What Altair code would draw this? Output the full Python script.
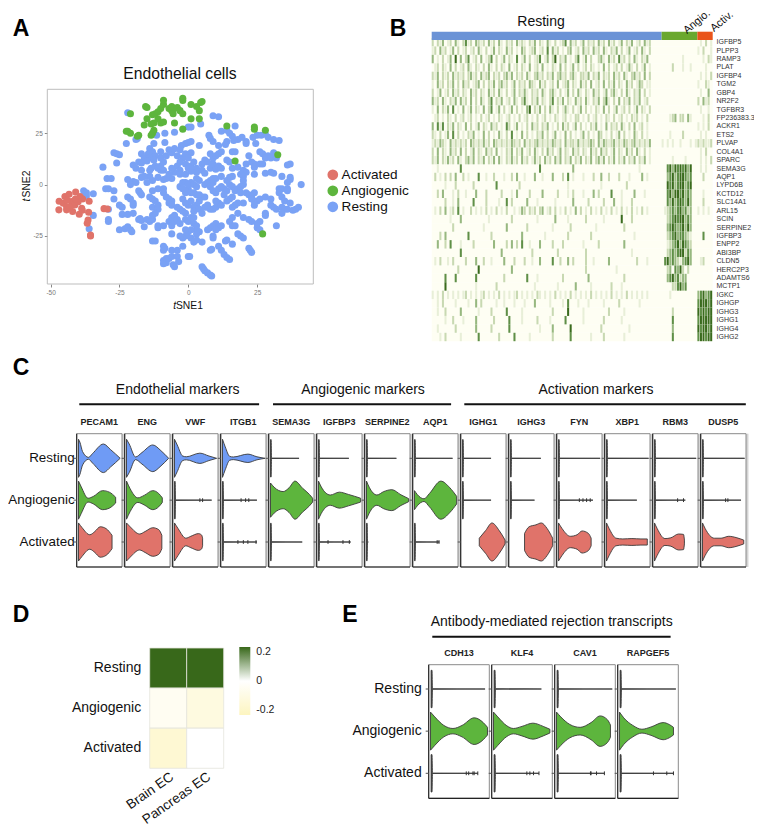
import altair as alt
import pandas as pd

FONT = "Liberation Sans"
W, H = 746, 818
OFF = 8  # page margin

# ---------- Panel A values (tSNE coordinates)
tsne_resting = [
(-22,35),(9,33.5),(11,33),(4.5,29.5),(0,28),(1,28),(17,28.5),(12,26),(14,26.5),(15,25),(16,23.5),(7.5,24),(8,22.5),(9,21),(-5,25.5),(-8.5,25),(-11.5,24),(-18.5,22.5),(-19,22),(-22.5,20),(25,24),(23.5,23),(26.5,24),(28,24.5),(29,23),(31,22),(33,21.5),(21,21),(21,20),(24.5,20),(19.5,23),(18,22),(16.5,21.5),(14,21),(13.5,19.5),(11,19),(-1,20),(0,20.5),(1,21),(-2.5,19),(4,19),(-8.5,20.5),(-12.5,20),(-14,17.5),
(-27,15.5),(-26,15),(-25,14.5),(-26,10.5),(-31,8.5),(-29.5,3),(-28,3),(-22,2.5),(-20,1.5),(-19,1),(-21,0),(-30,-2),(-29,-2),(-27,-3),
(-17,15),(-16,13),(-18,11),(-17,10.5),(-20,9.5),(-19,8),(-17,7),(-14.5,15),(-13,16),(-12,14),(-14,13),(-12.5,12),(-15,11.5),(-13.5,8),(-12,9),(-14,7),(-11,8),(-10,7),(-9,7),(-10,9),(-9,11),(-10,13),(-8,14),(-10,16),(-7,17),(-6,15.5),(-4,14),(-5,17.5),(-3,17),(-2,13),(-1,15),(1,15.5),(0,13),(-3,11),(-4,9),(-3,7),(-5,6),(-6,8),(-7,5),(-6,3),(-8,3),(-9,2.5),(-11,3.5),(-13,2),(-14,4),(-16,4),(-17,3.5),(-15,1),(-3,5),(-1,10),(0,8),(1,6.5),(-1,5),(1,9),(2,11),(3,8),(3,6),(5,7),(6,5.5),(6,12),(5,10),(7,11),(8,8),(9,10),(10,7.5),(11,9),(12,8),(9,13),(10,14),(11,15),(12,16),(8,15),(14,12),(15,11),(16,16),(17,16),(18,8.5),(16,8),(21,10),(20,7),(21,6),(19,5),(20,4),(16,4),(15,3.5),(23,11),(24,10),(24,8.5),(26,10),(27,10),(24,5),(22,14),(26,16),(27,15),(29,14),(31,15.5),(28,13),(30,13),(32,13),(30,6),(28,5.5),(31,5.5),(34,4),(37,10),(36,9.5),(37,3.5),(37,2.5),(36,1),
(-38,-3),(-37,-4),(-37,-5.5),(-34.5,-4.5),(-29,-12),(-34.5,-15),(-29,-17),(-29,-18),(-36,-21.5),(-27,-7),(-25,-10),(-24,-11),(-24,-14.5),(-22,-14.5),(-20,-14),(-22,-6),(-21,-7),(-20,-9),(-20,-10),(-25,-22),(-23,-21.5),(-22,-20.5),(-21,-22),(-20.5,-23),(-18,-17),(-17,-17.5),(-17.5,-16.5),(-15,-17),(-16,-20.5),(-14,-18),(-13,-17),(-18,-3),(-17.5,-4),(-17,-5),(-13,-3),(-14,-6),(-13,-7),(-12,-8),(-13,-11),(-11,-10),(-11,-12),(-12,-14),(-13,-15),(-11,-20),(-11,-21),(-9,-20),(-7,-18),(-6,-16),(-5,-15),(-6,-20),(-5,-18),(-4,-17),(-3,-19),(-6,-24),(-11,-2),(-9,-2),(-9,-4),(-8,-6),(-7,-7),(-7,-9),(-6,-8),(-6,-10),(-4,-11),(-3,-12),(-2,-13),(-1,-14),(-2,-7),(-1,-4),(0,-2),(1,-4),(2,-4),(3,-5),(4,-5),(5,-6),(6,-6),(-2,1),(-1,1),(-3,-1),(-2,-2),(1,1),(0,0),(2,0),(3,-1),(4,2),(3,3),(6,0),(7,1),(8,2),(9,3),(10,3),(9,1),(8,-1),(9,-3),(10,-4),(11,-2),(12,-1),(13,-2),(12,4),(14,2),(15,0),(14,-3),(16,-1),(17,-3),(18,-2),(19,-1),(20,0),(20,2),(13,-5),(14,-8),(15,-7),(16,-6),(19,-4),(21,-4),(22,-5),(23,-6),(24,-8),(25,-8),(26,-7),(24,-4),(20,-9),(18,-9),(17,-10),(16,-11),(18,-14),(16,-16),(15,-18),(16,-20),(17,-20),(20,-16),(22,-17),(23,-18),(23,-7),(24,-10),(28,-6),(30,-7),(30,-10),(31,-11),(28,-14),(28,-15),(33,-2),(34,-2),(36,-2),(36,-3),(33,-4),(34,-6),(35,-8),(34,-11),(35,-12),(34,-14),(36,-12),(38,-12.5),(39,-12),(40,-11),(41,0),(37,-9),(32,-12),(32,-20),(26,-18),(25,-21),(26,-22),(25,-19),(4,-8),(3,-10),(2,-11),(0,-10),(-1,-9),(1,-8),(2,-13),(4,-12),(5,-14),(6,-11),(7,-11),(8,-12),(9,-12),(10,-11),(11,-9),(12,-10),(10,-8),(7,-10),(-1,-17),(0,-18),(1,-16),(2,-16),(2,-19),(3,-20),(3,-22),(4,-23),(3,-24),(1,-22),(0,-23),(-1,-25),(-2,-26),(-3,-25),(-1,-22),(1,-26),(2,-28),(3,-27),(5,-28),(7,-22),(8,-21),(9,-20),(10,-19),(10,-22),(11,-21),(12,-20),(9,-25),(9,-26),(19,-25),(18,-24),(20,-26),(14,-27),(13.5,-27.5),(16,-29),(22,-31),(22.5,-32),(23,-33),(8,-32),(8.5,-31.5),(11,-30),(12,-32),(13,-34),(14,-35.5),(15,-36.5),
(5,-40),(5.5,-41),(6,-42),(7,-43),(8,-44),(8.5,-44.5),(0,-35),(0.5,-35),(-9,-37),(-8,-36),(-8,-38),(-7,-36),(-9,-38.5),(-5,-40),(-5.5,-39),(-6,-35),(-4,-35),(-3.5,-37.5),(-9,-30),(-9,-32),(-8.5,-31),(-6,-32),(-4,-32),(-2,-30),(-13,-27.5),(-12,-27.5),
]
tsne_angiogenic = [
(-21,34.5),(-15.5,38),(-15,37.5),(-15,32),(-13.5,29.5),(-12.5,30),(-16,29),(-11,32),(-13,34),(-12,34.5),(-11,35.5),(-10,37),(-9,39),(-9,41),(-7,37),(-6,38),(-5,37),(-6,36),(-5.5,34.5),(-4,37.5),(-3,36),(-2,34.5),(-10,30),(-9,30.5),(-5,30),(-2,27),(-2,41),(-2,42),(1,32),(4,32),(4,36),(1,39),(3,38),(4.5,40),(5,40.5),(-18,24),(-18.5,23.5),(-22.5,26),(-22,26),(-21,25),(-13,25),(-12.5,26.5),(-13.5,24),(14,28.5),(24,28),(24,27),(28,26.5),(32.5,14.5),(17,11.5),(27,-24),
]
tsne_activated = [
(-46.9,-8.1),(-47,-12.3),(-44.8,-5.8),(-43.3,-4.7),(-40.9,-3.6),(-39.3,-5.8),(-38.4,-7),(-45.4,-9.1),(-44.2,-10.7),(-42.4,-8.3),(-41.2,-9.9),(-40,-8.3),(-38.7,-11.5),(-44.2,-12.3),(-42,-13.1),(-39.6,-14.4),(-43,-11),(-41,-7),(-36,-8.1),(-36.2,-13.5),(-36.4,-17.2),(-36.7,-18.8),(-35.5,-24.5),(-35.5,-25),(-30.6,-11.7),(-29.4,-11.9),(-44,-7.5),(-38.5,-12.5),
]

# ---------- Panel B values: per-gene expression level per column (0-5)
heat_rows = [
("IGFBP5","20213012031024120321203120310212031210213021031020124031201302120312031201302130120312","00000000000000","010201"),
("PLPP3","12031201302012012031020130210312010320123012040312010230120312031203102130201301203102","00000000000000","102001"),
("RAMP3","30102013050302401203012402013021040130201240130250213010240130200231031204120203102130","00000000100000","001021"),
("PLAT","01202103020120310210203102021030120210301203010210302013020120210103020120201310201301","00002000100100","000100"),
("IGFBP4","21302120312120231203123021202313021203102312021302312023102213021302120312031023120302","00000000000000","010102"),
("TGM2","10312021302031201230202130231201302120321031201203012302103120301203021302103120132011","00000000000000","100210"),
("GBP4","20130120312021031202103120310201302131021203102310201302031021031201302310203102130201","00000000000000","010030"),
("NR2F2","31203102130312030203102402130120310241021302102402130210312031021302410203021302130120","00000000000000","203120"),
("TGFBR3","10302130401030130210302401302013020103502130203102013102013020102103020130120201302102","00000000000000","010010"),
("FP236383.3","01201021020120120102012010210120102012010201201021012010220102012010210201201021201020","00012302203100","001020"),
("ACKR1","30414021302103020130210312010420130102031202130102031201302010213010302120310203012010","00000000000000","101020"),
("ETS2","21020130402010213010302010310204010302010213020130103020101302010320102013020103102010","00010000200000","010100"),
("PLVAP","12132103121212032121312032121213212031212312121321203122131212320313212312132123121213","10101001000101","212112"),
("COL4A1","20302103120302013021031203010213021301203102031201302103120210312031201302103120310201","00000000000000","010200"),
("SPARC","21302131203102313021302130310213120312013120312031302130213021302313021302130213021301","00001000010000","010102"),
("SEMA3G","00100000000400000000000000000000000000000040000000000003000000000000000000000000010000","00453545453500","010100"),
("AQP1","02010202030020100040010020001002030010003001000300020401000100020030020002000100003010","00345345543400","002000"),
("LYPD6B","00000100020000002000000004000000002000000000000000000100000000000010000000002000000000","00545345534500","000000"),
("KCTD12","00203000102001000300020000020001030000200003000002000102000100030200004000100003000100","00453554534300","001000"),
("SLC14A1","00000200103000004000020000100402000003000100000010000003000002000002000300100020000000","00435345435300","002000"),
("ARL15","01020301204010020101020102010200101320212023012020102010302010201020102010201020102010","01234345342300","101010"),
("SCIN","00000001000300000000001000000002000000000100000030000100000020000001000000500020000000","00234545534300","000000"),
("SERPINE2","00000000200000000000100000000300000002000000000100000020000000001000000000020000000000","00345434535300","000000"),
("IGFBP3","00020300000000400000000200000000000300000000100000000200000000200000000000000001000000","00234534432100","004000"),
("ENPP2","00300204000100002000000030000203020400100030000200020000000100000200000000030000000000","00123453543200","000000"),
("ABI3BP","00000000000400000000000000030000000000020000000002000000000020000000000000000010000000","00234345524300","000000"),
("CLDN5","01020010200002000300200100003000200020010030000400200302000020010000030000000000200010","04534321345300","012000"),
("HERC2P3","00000000002000000050000000000003000000000000000000000000000020000000000010000000000000","00230435202000","000000"),
("ADAMTS6","00000400040000000400000000002000000004000100000000020000000003000000000000020000000000","00345342330000","000000"),
("MCTP1","00000500000000000100000002000000000000001000000001000000300000100000002000100000000000","00002245340000","000000"),
("IGKC","10102010101012010101201010201010120101010210101020101020101010201010102010102010101010","00010000000000","345345"),
("IGHGP","00102000010000100302000001001000100010003000001000010400010001000001000002000000010000","00000000000000","455545"),
("IGHG3","00100200000300000010000200000400000100000000000200000500000100000000020000010000000000","00002000000000","545455"),
("IGHG1","00000100200010000300000020000040000100000200001000004000000100000002000000100000000000","00004000000000","455555"),
("IGHG4","00100000020000000300000200000040000000000010000300000050000000000020000000000100000000","00003000000000","545545"),
("IGHG2","00010200000100000040000000200000400000100000000200000040000000100002000000010000000000","00004000000000","455455"),
]
heat_groups = ["Resting", "Angio", "Activ"]
heat_group_colors = ["#6B93D6", "#6AA82E", "#E9541A"]
heat_level_colors = ["#E8EFD8", "#C8D9B2", "#97B880", "#5F8F47", "#3A6B1E"]

# ---------- Panels C/E values
rows = ["Resting", "Angiogenic", "Activated"]
row_colors = ["#6F9BF5", "#5DB53D", "#E0736A"]
THIN_KEY = "collapsed"
THIN_COLOR = "#3A3A3A"

def thin(end):
    return [(0.04, 0.98), (0.055, 0.98), (0.062, 0.012), (end, 0)]

def is_thin(prof):
    return prof[0] == (0.04, 0.98)

genes_C = {
"PECAM1": [[(.04,1),(.07,.85),(.13,.35),(.26,.05),(.35,.25),(.59,.75),(.75,.45),(.96,0)],
           [(.04,1),(.1,.7),(.25,.1),(.37,.2),(.57,.5),(.72,.42),(.86,.15)],
           [(.04,1),(.12,.75),(.29,.38),(.4,.55),(.52,.8),(.65,.7),(.78,.35)]],
"ENG":    [[(.04,1),(.1,.75),(.24,.07),(.38,.3),(.62,.7),(.8,.4),(.97,0)],
           [(.04,1),(.12,.6),(.29,.12),(.43,.25),(.62,.5),(.75,.35),(.83,.12)],
           [(.04,1),(.12,.8),(.33,.42),(.45,.55),(.62,.75),(.75,.65),(.82,.35)]],
"VWF":    [[(.04,1),(.1,.7),(.22,.12),(.3,.08),(.6,.27),(.8,.12),(.97,0)],
           thin(.86),
           [(.04,1),(.12,.7),(.29,.2),(.4,.3),(.57,.44),(.64,.36),(.66,.2)]],
"ITGB1":  [[(.04,1),(.1,.6),(.2,.1),(.28,.07),(.6,.22),(.8,.08),(.98,0)],
           thin(.8), thin(.8)],
"SEMA3G": [thin(.67),
           [(.04,.9),(.12,.68),(.32,.45),(.45,.65),(.58,1),(.75,.62),(.9,.3),(.97,.1)],
           thin(.74)],
"IGFBP3": [thin(.71),
           [(.04,1),(.1,.7),(.3,.27),(.5,.42),(.7,.3),(.97,.1)],
           thin(.75)],
"SERPINE2":[thin(.7),
           [(.04,1),(.1,.68),(.27,.27),(.42,.45),(.6,.55),(.8,.28),(.97,.08)],
           thin(.08)],
"AQP1":   [thin(.88),
           [(.04,.5),(.1,.3),(.25,.07),(.37,.35),(.62,1),(.82,.65),(.97,.2)],
           thin(.59)],
"IGHG1":  [thin(.67), thin(.67),
           [(.41,.2),(.55,.6),(.69,1),(.85,.6),(.98,.1)]],
"IGHG3":  [thin(.71), thin(.57),
           [(.35,.45),(.45,.8),(.6,.9),(.72,1),(.85,.7),(.97,.2)]],
"FYN":    [thin(.96), thin(.8),
           [(.04,1),(.12,.7),(.3,.3),(.45,.38),(.56,.58),(.7,.45),(.76,.2)]],
"XBP1":   [thin(.97), thin(.71),
           [(.04,1),(.1,.7),(.25,.2),(.4,.16),(.6,.18),(.8,.16),(.94,.16)]],
"RBM3":   [thin(.96), thin(.72),
           [(.04,1),(.1,.7),(.27,.18),(.4,.22),(.57,.42),(.68,.4),(.7,.1)]],
"DUSP5":  [thin(.97), thin(.89),
           [(.04,1),(.1,.7),(.3,.2),(.45,.2),(.62,.3),(.8,.22),(.95,.1)]],
}
dots_C = [("VWF",1,.6),("VWF",1,.66),("ITGB1",1,.45),("ITGB1",1,.55),("ITGB1",1,.62),("ITGB1",2,.38),("ITGB1",2,.5),("ITGB1",2,.6),("ITGB1",2,.78),
          ("IGFBP3",2,.25),("IGFBP3",2,.58),("IGFBP3",2,.72),("AQP1",2,.54),("AQP1",2,.58),
          ("FYN",1,.5),("FYN",1,.58),("FYN",1,.66),("FYN",1,.74),("RBM3",1,.55),("RBM3",1,.68),("DUSP5",1,.55),("DUSP5",1,.6)]

genes_E = {
"CDH13":  [thin(.93),
           [(.03,1),(.1,.75),(.25,.3),(.4,.14),(.55,.3),(.75,.7),(.9,.45),(.97,.2)],
           thin(.81)],
"KLF4":   [thin(.82),
           [(.03,1),(.1,.75),(.25,.28),(.36,.14),(.5,.25),(.68,.42),(.85,.25),(.96,.1)],
           thin(.78)],
"CAV1":   [thin(.95),
           [(.03,1),(.1,.75),(.25,.35),(.42,.2),(.6,.45),(.75,.8),(.87,.6),(.92,.32)],
           thin(.82)],
"RAPGEF5":[thin(.96),
           [(.03,1),(.1,.7),(.25,.3),(.4,.1),(.55,.22),(.75,.45),(.85,.35),(.92,.2)],
           thin(.92)],
}
dots_E = [("CDH13",2,.62),("CDH13",2,.66),("CDH13",2,.73),("CDH13",2,.75),("CDH13",2,.81),
          ("KLF4",2,.58),("KLF4",2,.63),("KLF4",2,.69),("KLF4",2,.78),
          ("CAV1",2,.59),("CAV1",2,.6),("CAV1",2,.69),("CAV1",2,.82),
          ("RAPGEF5",2,.59),("RAPGEF5",2,.81),("RAPGEF5",2,.92)]

# ---------- Panel D values
d_rows = ["Resting", "Angiogenic", "Activated"]
d_cols = ["Brain EC", "Pancreas EC"]
d_vals = [[0.2, 0.2], [-0.04, -0.1], [-0.14, 0.0]]

# ---------- helpers
def lin(domain, page_range):
    return alt.Scale(domain=domain, range=[p - OFF for p in page_range], nice=False, zero=False)

def label(text, x, y, size=14, weight="normal", align="center", angle=0, color="#111", style="normal"):
    return alt.Chart(pd.DataFrame({"t": [text]})).mark_text(
        font=FONT, fontSize=size, fontWeight=weight, align=align, baseline="middle",
        angle=angle, color=color, fontStyle=style
    ).encode(x=alt.value(x - OFF), y=alt.value(y - OFF), text="t:N")

layers = []

# ---------- Panel A
axA = lin([-51.2, 45.4], [47.3, 313.3])
ayA = lin([46.4, -48.4], [89.3, 284])
df_frameA = pd.DataFrame({"x0": [-51.2], "x1": [45.4], "y0": [46.4], "y1": [-48.4]})
layers.append(alt.Chart(df_frameA).mark_rect(fillOpacity=0, stroke="#BDBDBD", strokeWidth=1).encode(
    x=alt.X("x0:Q", scale=axA, axis=alt.Axis(orient="bottom", values=[-50, -25, 0, 25], labelExpr="'' + datum.value", title=None, grid=False,
        domain=False, tickColor="#888", tickSize=3, labelColor="#777", labelFontSize=6.5, labelFont=FONT, labelPadding=2,
        offset=(284 - OFF) - H)),
    x2="x1:Q",
    y=alt.Y("y0:Q", scale=ayA, axis=alt.Axis(orient="left", values=[-25, 0, 25], labelExpr="'' + datum.value", title=None, grid=False,
        domain=False, tickColor="#888", tickSize=3, labelColor="#777", labelFontSize=6.5, labelFont=FONT, labelPadding=2,
        offset=-(47.3 - OFF))),
    y2="y1:Q"))
pts = ([{"t1": a, "t2": b, "cls": "Resting"} for a, b in tsne_resting]
       + [{"t1": a, "t2": b, "cls": "Angiogenic"} for a, b in tsne_angiogenic]
       + [{"t1": a, "t2": b, "cls": "Activated"} for a, b in tsne_activated])
layers.append(alt.Chart(pd.DataFrame(pts)).mark_circle(size=50, opacity=1).encode(
    x=alt.X("t1:Q", scale=axA, axis=None),
    y=alt.Y("t2:Q", scale=ayA, axis=None),
    color=alt.Color("cls:N", scale=alt.Scale(domain=["Activated", "Angiogenic", "Resting"], range=["#E0736A", "#5DB53D", "#7AA2F5"]),
        legend=alt.Legend(orient="none", legendX=318, legendY=160, title=None, symbolSize=115, symbolType="circle",
            labelFontSize=13.6, labelFont=FONT, labelColor="#111", rowPadding=1, labelOffset=2, padding=0))))
layers += [label("Endothelial cells", 180, 74, 15.7),
           label("t", 176, 306, 10.3, align="right", style="italic"),
           label("SNE1", 176, 306, 10.3, align="left"),
           label("t", 26.7, 200, 10.3, angle=270, style="italic"),
           label("SNE2", 26.7, 184, 10.3, angle=270)]

# ---------- Panel B
N_COL = 110
axB = lin([0, N_COL], [431.7, 712.7])
ayB = alt.Scale(domain=[r[0] for r in heat_rows], range=[38 - OFF, 341.2 - OFF], paddingInner=0, paddingOuter=0)
recs = []
for gene, p1, p2, p3 in heat_rows:
    s = p1.ljust(90, "0")[:90] + p2.ljust(14, "0")[:14] + p3.ljust(6, "0")[:6]
    for i, ch in enumerate(s):
        if ch != "0":
            recs.append({"gene": gene, "c0": i, "c1": i + 0.8, "lvl": int(ch)})
layers.append(alt.Chart(pd.DataFrame({"gene": [r[0] for r in heat_rows], "c0": 0, "c1": N_COL})).mark_rect(color="#FEFEF3").encode(
    x=alt.X("c0:Q", scale=axB, axis=None), x2="c1:Q",
    y=alt.Y("gene:N", scale=ayB, sort=None, axis=alt.Axis(orient="right", title=None, ticks=False, domain=False, labelFontSize=7.0,
        labelFont=FONT, labelColor="#333", labelPadding=3, grid=False, offset=(713 - OFF) - W))))
layers.append(alt.Chart(pd.DataFrame(recs)).mark_rect().encode(
    x=alt.X("c0:Q", scale=axB, axis=None), x2="c1:Q",
    y=alt.Y("gene:N", scale=ayB, sort=None, axis=None),
    color=alt.Color("lvl:O", scale=alt.Scale(domain=[1, 2, 3, 4, 5], range=heat_level_colors), legend=None)))
layers.append(alt.Chart(pd.DataFrame({"grp": heat_groups, "c0": [0, 90, 104], "c1": [90, 104, 110]})).mark_rect().encode(
    x=alt.X("c0:Q", scale=axB, axis=None), x2="c1:Q",
    y=alt.value(31.7 - OFF), y2=alt.value(40 - OFF),
    color=alt.Color("grp:N", scale=alt.Scale(domain=heat_groups, range=heat_group_colors), legend=None)))
layers += [label("Resting", 541, 22, 14),
           label("Angio.", 697, 22, 11, angle=320),
           label("Activ.", 722, 21.5, 11, angle=320)]

# ---------- Panels C and E builder
def violins(genes, dots, px_left, period, frac, y_center0, y_step, row_label_x, row_font, row_top, row_bottom, strip):
    n = len(genes)
    sx = lin([0, n], [px_left, px_left + n * period])
    sy = lin([0, 2], [y_center0, y_center0 + 2 * y_step])
    yt = (row_top - y_center0) / y_step
    yb = (row_bottom - y_center0) / y_step
    names = list(genes)
    out = []
    frame = pd.DataFrame({"g": names, "x0": range(n), "x1": [i + frac for i in range(n)],
                          "xs": [i + frac + 1.2 / period for i in range(n)], "y0": yt, "y1": yb})
    if strip:
        out.append(alt.Chart(frame).mark_rule(color="#D4D4D4", strokeWidth=2.5).encode(
            x=alt.X("xs:Q", scale=sx, axis=None), y=alt.Y("y0:Q", scale=sy, axis=None), y2="y1:Q"))
    out.append(alt.Chart(frame).mark_rect(fill="white", stroke="#8A8A8A", strokeWidth=1).encode(
        x=alt.X("x0:Q", scale=sx, axis=None), x2="x1:Q",
        y=alt.Y("y0:Q", scale=sy, axis=None), y2="y1:Q"))
    out.append(alt.Chart(frame).mark_rule(color="#222", strokeWidth=1.1).encode(
        x=alt.X("x0:Q", scale=sx, axis=None), y=alt.Y("y0:Q", scale=sy, axis=None), y2="y1:Q"))
    out.append(alt.Chart(frame).mark_rule(color="#222", strokeWidth=1.2).encode(
        x=alt.X("x0:Q", scale=sx, axis=None), x2="x1:Q", y=alt.Y("y1:Q", scale=sy, axis=None)))
    ticks = [{"x0": i - 3.0 / period, "x1": i, "r": r} for i in range(n) for r in range(3)]
    out.append(alt.Chart(pd.DataFrame(ticks)).mark_rule(color="#555", strokeWidth=1).encode(
        x=alt.X("x0:Q", scale=sx, axis=None), x2="x1:Q", y=alt.Y("r:Q", scale=sy, axis=None)))
    recs = []
    for i, name in enumerate(names):
        for r, prof in enumerate(genes[name]):
            kind = THIN_KEY if is_thin(prof) else rows[r]
            for f, hw in prof:
                recs.append({"key": f"{name}-{r}", "x": i + f * frac, "lo": r - 0.455 * hw * 41.85 / y_step,
                             "hi": r + 0.455 * hw * 41.85 / y_step, "row": kind})
    out.append(alt.Chart(pd.DataFrame(recs)).mark_area(interpolate="monotone", stroke="#3A3A3A", strokeWidth=0.9, orient="vertical", opacity=1).encode(
        x=alt.X("x:Q", scale=sx, axis=None),
        y=alt.Y("lo:Q", scale=sy, axis=None), y2="hi:Q",
        detail="key:N",
        color=alt.Color("row:N", scale=alt.Scale(domain=rows + [THIN_KEY], range=row_colors + [THIN_COLOR]), legend=None)))
    drec = [{"x": names.index(g) + f * frac, "lo": r - 0.045, "hi": r + 0.045} for g, r, f in dots]
    out.append(alt.Chart(pd.DataFrame(drec)).mark_rule(color="#333", strokeWidth=1).encode(
        x=alt.X("x:Q", scale=sx, axis=None), y=alt.Y("lo:Q", scale=sy, axis=None), y2="hi:Q"))
    # gene names and row names
    out.append(alt.Chart(pd.DataFrame({"g": names, "x": [i + frac / 2 for i in range(n)]})).mark_text(
        font=FONT, fontSize=9, fontWeight="bold", color="#222", baseline="middle").encode(
        x=alt.X("x:Q", scale=sx, axis=None), y=alt.value(row_top - 11.7 - OFF), text="g:N"))
    out.append(alt.Chart(pd.DataFrame({"name": rows, "r": [0, 1, 2]})).mark_text(
        font=FONT, fontSize=row_font, align="right", baseline="middle", color="#111").encode(
        x=alt.value(row_label_x - OFF), y=alt.Y("r:Q", scale=sy, axis=None), text="name:N"))
    return out, sx

vC, sxC = violins(genes_C, dots_C, 76.7, 48.0, 0.944, 458.3, 41.85, 74.6, 13.4, 433.7, 567, True)
layers += vC
group_lines_C = pd.DataFrame({"x0": [.054, 4.09, 8.075], "x1": [3.8, 7.8, 13.94]})
layers.append(alt.Chart(group_lines_C).mark_rule(color="#111", strokeWidth=2).encode(
    x=alt.X("x0:Q", scale=sxC, axis=None), x2="x1:Q", y=alt.value(404.3 - OFF)))
layers += [label("Endothelial markers", 177.7, 390.3, 14),
           label("Angiogenic markers", 363, 390.3, 14),
           label("Activation markers", 596, 390.3, 14)]

vE, sxE = violins(genes_E, dots_E, 428.7, 63.0, 0.962, 689, 42.15, 421.7, 14, 664.7, 798.3, False)
layers += vE
layers.append(alt.Chart(pd.DataFrame({"x0": [.057], "x1": [3.84]})).mark_rule(color="#111", strokeWidth=2).encode(
    x=alt.X("x0:Q", scale=sxE, axis=None), x2="x1:Q", y=alt.value(636.7 - OFF)))
layers.append(label("Antibody-mediated rejection transcripts", 551.7, 622.3, 14))

# ---------- Panel D
recsD = [{"row": r, "col": c, "v": d_vals[i][j]} for i, r in enumerate(d_rows) for j, c in enumerate(d_cols)]
layers.append(alt.Chart(pd.DataFrame(recsD)).mark_rect(stroke="#E4E4DC", strokeWidth=0.8).encode(
    x=alt.X("col:N", sort=d_cols, scale=alt.Scale(domain=d_cols, range=[149.7 - OFF, 223.7 - OFF], paddingInner=0, paddingOuter=0),
        axis=alt.Axis(orient="bottom", title=None, ticks=False, domain=False, labelAngle=-35, labelFontSize=13.5, labelFont=FONT, labelColor="#111",
            labelPadding=1, grid=False, labelAlign="right", labelBaseline="top", offset=(768.3 - OFF) - H)),
    y=alt.Y("row:N", sort=d_rows, scale=alt.Scale(domain=d_rows, range=[648 - OFF, 768.3 - OFF], paddingInner=0, paddingOuter=0),
        axis=alt.Axis(orient="left", title=None, ticks=False, domain=False, labelFontSize=14, labelFont=FONT, labelColor="#111",
            labelPadding=9, grid=False, offset=-(149.7 - OFF))),
    color=alt.Color("v:Q", scale=alt.Scale(domain=[-0.2, 0, 0.2], range=["#FDF5C0", "#FFFFFF", "#38681A"], interpolate="rgb"),
        legend=alt.Legend(orient="none", legendX=239.3 - OFF, legendY=647 - OFF, title=None, values=[-0.2, 0, 0.2],
            gradientLength=68, gradientThickness=11, labelFontSize=10.5, labelFont=FONT, labelColor="#222", labelOffset=6,
            labelExpr="'' + datum.value", padding=0))))

# ---------- Panel letters
layers += [label(t, x, y, 23, weight="bold", color="#000") for t, x, y in
           [("A", 21, 29), ("B", 398, 29), ("C", 21, 368), ("D", 21, 615), ("E", 350, 615)]]

chart = alt.layer(*layers).resolve_scale(
    x="independent", y="independent", color="independent").properties(
    width=W, height=H, padding=0, autosize=alt.AutoSizeParams(type="none"), background="white"
).configure_view(stroke=None)

chart.save("out.html", embed_options={"renderer": "svg", "actions": False})
